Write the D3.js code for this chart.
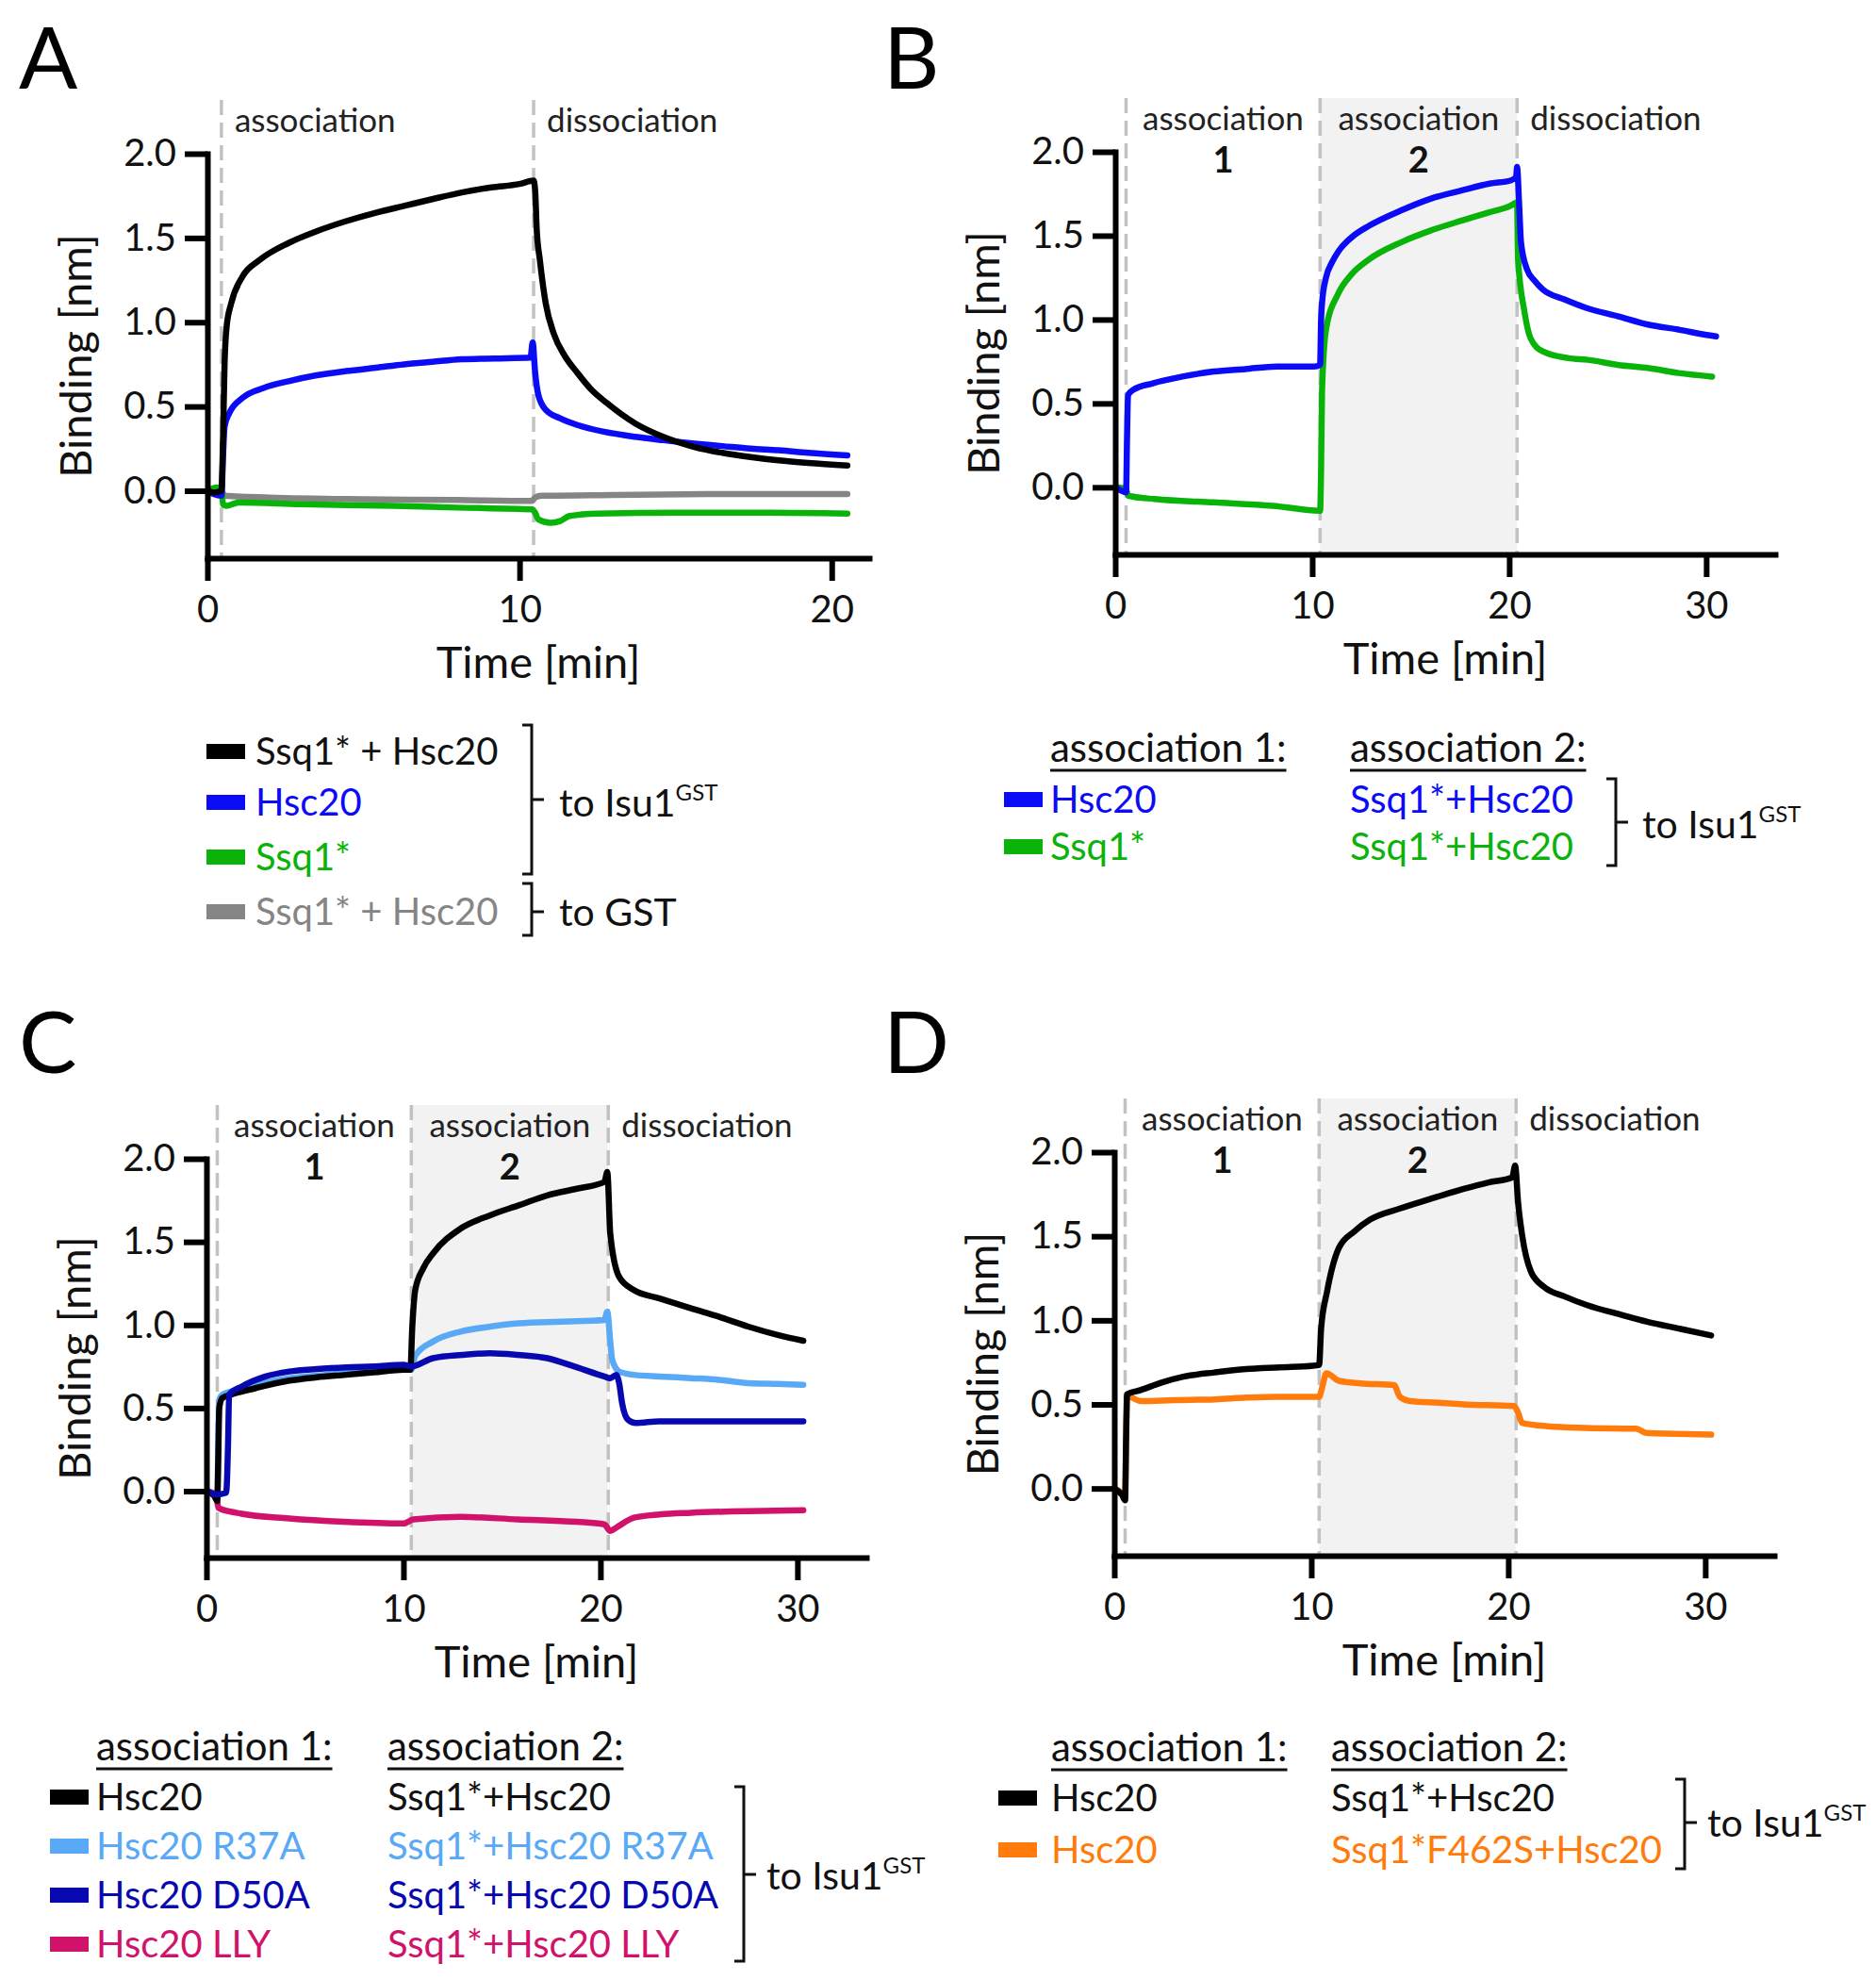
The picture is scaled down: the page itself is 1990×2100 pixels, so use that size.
<!DOCTYPE html>
<html>
<head>
<meta charset="utf-8">
<script src="https://cdn.jsdelivr.net/npm/d3@7"></script>
<style>
body { margin: 0; background: #fff; }
text { font-family: Lato, "Open Sans", sans-serif; }
</style>
</head>
<body>
<svg id="fig" width="1990" height="2100"></svg>
<script>
const yTicks = [0, 0.5, 1.0, 1.5, 2.0];
const xTicksA = [0, 10, 20];
const xTicksLong = [0, 10, 20, 30];
const phasesA = [0.45, 10.45];
const phasesLong = [0.55, 10.4, 20.4];
const phaseNamesA = ["association", "dissociation"];
const phaseNamesLong = ["association", "association", "dissociation"];
const phaseNumbers = ["1", "2"];

// panel A : [time (min), binding (nm)]
const aSsqHsc = [[0,0],[0.2,-0.01],[0.45,0],[0.5,0.3],[0.55,0.75],[0.62,0.98],[0.76,1.11],[1.12,1.27],[1.68,1.37],[2.6,1.47],[3.5,1.54],[4.45,1.6],[5.4,1.65],[6.3,1.69],[7.2,1.73],[8.15,1.77],[9.1,1.8],[10.0,1.82],[10.45,1.84],[10.5,1.78],[10.55,1.55],[10.65,1.37],[10.84,1.11],[11.1,0.93],[11.45,0.8],[11.85,0.7],[12.3,0.6],[12.8,0.52],[13.7,0.4],[14.6,0.32],[15.6,0.26],[16.5,0.225],[17.4,0.2],[18.3,0.18],[19.25,0.165],[20.5,0.15]];
const aHsc = [[0,0],[0.2,-0.02],[0.45,-0.03],[0.5,0.2],[0.55,0.38],[0.7,0.46],[1.12,0.55],[1.8,0.61],[2.6,0.65],[3.5,0.685],[4.45,0.71],[5.4,0.73],[6.3,0.75],[7.2,0.765],[8.15,0.78],[9.2,0.785],[10.35,0.79],[10.42,0.88],[10.5,0.7],[10.6,0.57],[10.84,0.48],[11.3,0.43],[11.85,0.39],[12.7,0.35],[13.7,0.32],[14.6,0.3],[15.6,0.28],[16.5,0.265],[17.4,0.25],[18.3,0.24],[19.25,0.225],[20.5,0.21]];
const aSsq = [[0,0],[0.3,0.02],[0.45,0.01],[0.5,-0.08],[0.6,-0.09],[1,-0.07],[3,-0.08],[6,-0.09],[8,-0.1],[10.4,-0.11],[10.5,-0.13],[10.6,-0.17],[11.0,-0.19],[11.3,-0.18],[11.6,-0.15],[12.5,-0.135],[15,-0.13],[18,-0.13],[20.5,-0.135]];
const aGst = [[0,0],[0.45,0],[0.55,-0.03],[2,-0.04],[5,-0.05],[8,-0.055],[10.4,-0.06],[10.5,-0.04],[10.7,-0.03],[13,-0.025],[16,-0.02],[20.5,-0.02]];

// panel B
const bHsc = [[0,0],[0.3,-0.02],[0.55,-0.03],[0.6,0.3],[0.65,0.55],[0.9,0.58],[1.9,0.62],[3.4,0.66],[5.0,0.69],[6.6,0.705],[8.2,0.72],[10.1,0.72],[10.4,0.73],[10.45,1.0],[10.5,1.1],[10.7,1.25],[11.0,1.34],[11.35,1.41],[12.0,1.49],[12.9,1.56],[14.5,1.65],[16.0,1.72],[17.6,1.77],[19.0,1.81],[20.1,1.83],[20.35,1.85],[20.4,1.91],[20.5,1.7],[20.6,1.46],[20.9,1.3],[21.3,1.23],[21.7,1.18],[22.8,1.12],[23.9,1.07],[25.5,1.02],[27.05,0.97],[28.6,0.94],[30.2,0.905],[30.5,0.9]];
const bSsq = [[0,0],[0.55,-0.01],[0.65,-0.05],[2,-0.07],[5,-0.09],[8,-0.11],[10.4,-0.14],[10.45,0.1],[10.5,0.58],[10.7,0.94],[11.3,1.15],[12.0,1.27],[12.9,1.36],[14.5,1.46],[16.0,1.53],[17.6,1.59],[19.0,1.64],[20.1,1.68],[20.4,1.7],[20.45,1.36],[20.77,1.05],[21.08,0.89],[21.7,0.81],[23.0,0.77],[24.0,0.76],[25.5,0.73],[27.1,0.71],[28.7,0.68],[30.3,0.66]];

// panel C
const cWT = [[0,0],[0.4,-0.03],[0.55,-0.06],[0.6,0.2],[0.65,0.5],[0.8,0.56],[1.24,0.58],[2.5,0.62],[4.2,0.665],[5.6,0.685],[7.1,0.7],[8.5,0.715],[10.0,0.73],[10.35,0.73],[10.45,0.99],[10.6,1.21],[11.0,1.34],[11.5,1.43],[12.9,1.58],[14.4,1.66],[15.85,1.72],[17.3,1.78],[18.8,1.82],[20.2,1.86],[20.35,1.92],[20.5,1.55],[20.95,1.29],[21.7,1.21],[23.0,1.16],[24.6,1.1],[26.0,1.05],[27.5,0.99],[29.0,0.94],[30.3,0.905]];
const cR37A = [[0,0],[0.4,-0.02],[0.55,-0.03],[0.6,0.3],[0.65,0.55],[0.8,0.58],[1.24,0.6],[2.5,0.64],[4.2,0.68],[5.6,0.695],[7.1,0.71],[8.5,0.72],[10.0,0.73],[10.4,0.73],[10.6,0.815],[11.5,0.9],[12.9,0.96],[14.4,0.99],[15.85,1.01],[18.0,1.02],[20.2,1.03],[20.35,1.08],[20.5,0.9],[20.6,0.79],[20.95,0.72],[21.7,0.7],[23.0,0.69],[24.6,0.68],[26.0,0.67],[27.5,0.65],[29.0,0.645],[30.3,0.64]];
const cD50A = [[0,0],[0.5,-0.02],[1.0,-0.01],[1.1,0.3],[1.15,0.58],[1.8,0.63],[3.0,0.69],[4.2,0.72],[5.6,0.735],[7.1,0.745],[8.5,0.75],[10.0,0.76],[10.4,0.75],[11.5,0.8],[13.0,0.82],[14.4,0.83],[15.8,0.82],[17.3,0.8],[18.8,0.745],[20.2,0.69],[20.5,0.68],[20.8,0.7],[20.95,0.65],[21.1,0.53],[21.4,0.43],[21.8,0.41],[23.0,0.42],[25.0,0.42],[27.5,0.42],[30.3,0.42]];
const cLLY = [[0,0],[0.5,-0.02],[0.6,-0.1],[1.5,-0.13],[4.2,-0.165],[7.0,-0.185],[10.0,-0.195],[10.5,-0.17],[12.9,-0.155],[15.8,-0.17],[18.8,-0.185],[20.2,-0.2],[20.5,-0.24],[20.8,-0.22],[21.7,-0.16],[23.0,-0.14],[24.6,-0.13],[27.5,-0.12],[30.3,-0.115]];

// panel D
const dWT = [[0,0],[0.4,-0.04],[0.55,-0.07],[0.6,0.3],[0.65,0.56],[1.33,0.585],[2.4,0.63],[3.5,0.665],[5.1,0.69],[6.7,0.71],[8.4,0.72],[10.1,0.73],[10.4,0.735],[10.5,0.95],[10.8,1.17],[11.4,1.43],[12.2,1.53],[13.0,1.6],[14.5,1.665],[16.0,1.72],[17.7,1.78],[19.0,1.82],[20.2,1.85],[20.35,1.92],[20.5,1.7],[20.7,1.51],[21.15,1.29],[21.8,1.2],[22.9,1.14],[24.0,1.09],[25.5,1.04],[27.1,0.99],[28.7,0.95],[30.3,0.91]];
const dF462S = [[0,0],[0.4,-0.03],[0.55,-0.05],[0.6,0.3],[0.65,0.55],[1.33,0.52],[3.0,0.525],[5.1,0.53],[6.7,0.54],[8.2,0.545],[10.4,0.545],[10.55,0.6],[10.77,0.685],[11.4,0.64],[12.5,0.625],[14.2,0.615],[14.5,0.545],[15.0,0.52],[16.5,0.51],[17.7,0.5],[20.3,0.49],[20.5,0.45],[20.7,0.39],[22.0,0.37],[24.0,0.36],[26.5,0.355],[27.0,0.33],[28.5,0.325],[30.3,0.32]];

const black = "#000000", blue = "#0b0bf5", green = "#0ab30a", grey = "#858585",
      lightBlue = "#59a9f7", darkBlue = "#0808b0", pink = "#d1126a", orange = "#ff7b0c";

const svg = d3.select("#fig");

const panels = [
  { letter: "A", lx: 20, ly: 94, xr: [220, 922], yr: [592, 163], xMax: 21.2, xTicks: xTicksA,
    phases: phasesA, names: phaseNamesA,
    series: [[aGst, grey], [aSsq, green], [aHsc, blue], [aSsqHsc, black]] },
  { letter: "B", lx: 937, ly: 94, xr: [1183, 1883], yr: [588, 161], xMax: 33.5, xTicks: xTicksLong,
    phases: phasesLong, names: phaseNamesLong,
    series: [[bSsq, green], [bHsc, blue]] },
  { letter: "C", lx: 20, ly: 1138, xr: [219, 919], yr: [1652, 1229], xMax: 33.5, xTicks: xTicksLong,
    phases: phasesLong, names: phaseNamesLong,
    series: [[cLLY, pink], [cR37A, lightBlue], [cWT, black], [cD50A, darkBlue]] },
  { letter: "D", lx: 937, ly: 1138, xr: [1182, 1882], yr: [1650, 1222], xMax: 33.5, xTicks: xTicksLong,
    phases: phasesLong, names: phaseNamesLong,
    series: [[dF462S, orange], [dWT, black]] }
];

function drawPanel(p) {
  const x = d3.scaleLinear().domain([0, p.xMax]).range(p.xr);
  const y = d3.scaleLinear().domain([-0.4, 2.0]).range(p.yr);
  const g = svg.append("g");
  const top = y(2.0) - 57;
  const bottom = y(-0.4);

  g.append("text")
    .attr("x", p.lx).attr("y", p.ly)
    .attr("font-size", 92)
    .text(p.letter);

  // shaded second association
  if (p.phases.length === 3) {
    g.append("rect")
      .attr("x", x(p.phases[1]))
      .attr("y", top)
      .attr("width", x(p.phases[2]) - x(p.phases[1]))
      .attr("height", bottom - top)
      .attr("fill", "#f2f2f2");
  }

  g.selectAll(".phase")
    .data(p.phases)
    .join("line")
    .attr("class", "phase")
    .attr("x1", d => x(d)).attr("x2", d => x(d))
    .attr("y1", top).attr("y2", bottom)
    .attr("stroke", "#c2c2c2")
    .attr("stroke-width", 3.5)
    .attr("stroke-dasharray", "16 8");

  // phase labels
  p.names.forEach((name, i) => {
    const centered = p.phases.length === 3 && i < 2;
    const px = centered ? (x(p.phases[i]) + x(p.phases[i + 1])) / 2 : x(p.phases[i]) + 14;
    g.append("text")
      .attr("x", px).attr("y", y(2.0) - 23)
      .attr("text-anchor", centered ? "middle" : "start")
      .attr("font-size", 35)
      .attr("fill", "#222")
      .text(name);
    if (centered) {
      g.append("text")
        .attr("x", px).attr("y", y(2.0) + 22)
        .attr("text-anchor", "middle")
        .attr("font-size", 38)
        .attr("font-weight", "bold")
        .attr("fill", "#111")
        .text(phaseNumbers[i]);
    }
  });

  // curves
  const line = d3.line()
    .x(d => x(d[0]))
    .y(d => y(d[1]))
    .curve(d3.curveMonotoneX);
  p.series.forEach(([data, color]) => {
    g.append("path")
      .datum(data)
      .attr("d", line)
      .attr("fill", "none")
      .attr("stroke", color)
      .attr("stroke-width", 6.5)
      .attr("stroke-linejoin", "round")
      .attr("stroke-linecap", "round");
  });

  // axes
  const xAxis = g.append("g")
    .attr("transform", `translate(0,${bottom})`)
    .call(d3.axisBottom(x).tickValues(p.xTicks).tickSize(24).tickSizeOuter(0)
      .tickPadding(16).tickFormat(d3.format("d")));
  const yAxis = g.append("g")
    .attr("transform", `translate(${p.xr[0]},0)`)
    .call(d3.axisLeft(y).tickValues(yTicks).tickSize(24).tickSizeOuter(0)
      .tickPadding(9).tickFormat(d3.format(".1f")));
  [xAxis, yAxis].forEach(a => {
    a.attr("font-size", 40).attr("font-family", null);
    a.select(".domain").attr("stroke-width", 6).attr("stroke-linecap", "square");
    a.selectAll(".tick line").attr("stroke-width", 6);
    a.selectAll(".tick text").attr("fill", "#111");
  });

  g.append("text")
    .attr("x", (p.xr[0] + p.xr[1]) / 2).attr("y", bottom + 127)
    .attr("text-anchor", "middle")
    .attr("font-size", 47)
    .attr("fill", "#111")
    .text("Time [min]");
  g.append("text")
    .attr("transform", `translate(${p.xr[0] - 123},${(y(2.0) + bottom) / 2}) rotate(-90)`)
    .attr("text-anchor", "middle")
    .attr("font-size", 47)
    .attr("fill", "#111")
    .text("Binding [nm]");
}

panels.forEach(drawPanel);

// legends
function textColor(c) { return c === black ? "#111" : c; }

function bracket(x, y0, y1, ym) {
  svg.append("path")
    .attr("d", `M${x - 10},${y0}H${x}V${y1}H${x - 10}M${x},${ym}H${x + 13}`)
    .attr("fill", "none")
    .attr("stroke", "#111")
    .attr("stroke-width", 3);
}

function toLabel(x, yb, main, sup) {
  const t = svg.append("text")
    .attr("x", x).attr("y", yb)
    .attr("font-size", 41)
    .attr("fill", "#111");
  t.append("tspan").text(main);
  if (sup) t.append("tspan").attr("font-size", 24).attr("dy", -17).text(sup);
}

function header(x, yb, label) {
  const t = svg.append("text")
    .attr("x", x).attr("y", yb)
    .attr("font-size", 42)
    .attr("fill", "#111")
    .text(label);
  const w = t.node().getComputedTextLength();
  svg.append("line")
    .attr("x1", x).attr("x2", x + w)
    .attr("y1", yb + 9).attr("y2", yb + 9)
    .attr("stroke", "#111").attr("stroke-width", 3);
}

function legendRows(swatchX, cols, rowYs, colors) {
  rowYs.forEach((ry, i) => {
    svg.append("rect")
      .attr("x", swatchX).attr("y", ry - 8)
      .attr("width", 41).attr("height", 16)
      .attr("fill", colors[i]);
    cols.forEach(([cx, names]) => {
      svg.append("text")
        .attr("x", cx).attr("y", ry + 14)
        .attr("font-size", 40)
        .attr("fill", textColor(colors[i]))
        .text(names[i]);
    });
  });
}

const legendA = ["Ssq1* + Hsc20", "Hsc20", "Ssq1*", "Ssq1* + Hsc20"];
const legendAColors = [black, blue, green, grey];
legendRows(219, [[271, legendA]], [797, 851, 909, 967], legendAColors);
bracket(564, 769, 927, 848);
toLabel(593, 866, "to Isu1", "GST");
bracket(564, 937, 992, 967);
toLabel(593, 982, "to GST", null);

const headers = ["association 1:", "association 2:"];

const legendB1 = ["Hsc20", "Ssq1*"];
const legendB2 = ["Ssq1*+Hsc20", "Ssq1*+Hsc20"];
header(1114, 808, headers[0]);
header(1432, 808, headers[1]);
legendRows(1065, [[1114, legendB1], [1432, legendB2]], [848, 898], [blue, green]);
bracket(1714, 826, 918, 872);
toLabel(1742, 889, "to Isu1", "GST");

const legendC1 = ["Hsc20", "Hsc20 R37A", "Hsc20 D50A", "Hsc20 LLY"];
const legendC2 = ["Ssq1*+Hsc20", "Ssq1*+Hsc20 R37A", "Ssq1*+Hsc20 D50A", "Ssq1*+Hsc20 LLY"];
header(102, 1867, headers[0]);
header(411, 1867, headers[1]);
legendRows(53, [[102, legendC1], [411, legendC2]], [1906, 1958, 2010, 2062], [black, lightBlue, darkBlue, pink]);
bracket(789, 1895, 2080, 1988);
toLabel(813, 2004, "to Isu1", "GST");

const legendD1 = ["Hsc20", "Hsc20"];
const legendD2 = ["Ssq1*+Hsc20", "Ssq1*F462S+Hsc20"];
header(1115, 1868, headers[0]);
header(1412, 1868, headers[1]);
legendRows(1059, [[1115, legendD1], [1412, legendD2]], [1907, 1962], [black, orange]);
bracket(1787, 1887, 1982, 1933);
toLabel(1811, 1948, "to Isu1", "GST");
</script>
</body>
</html>
